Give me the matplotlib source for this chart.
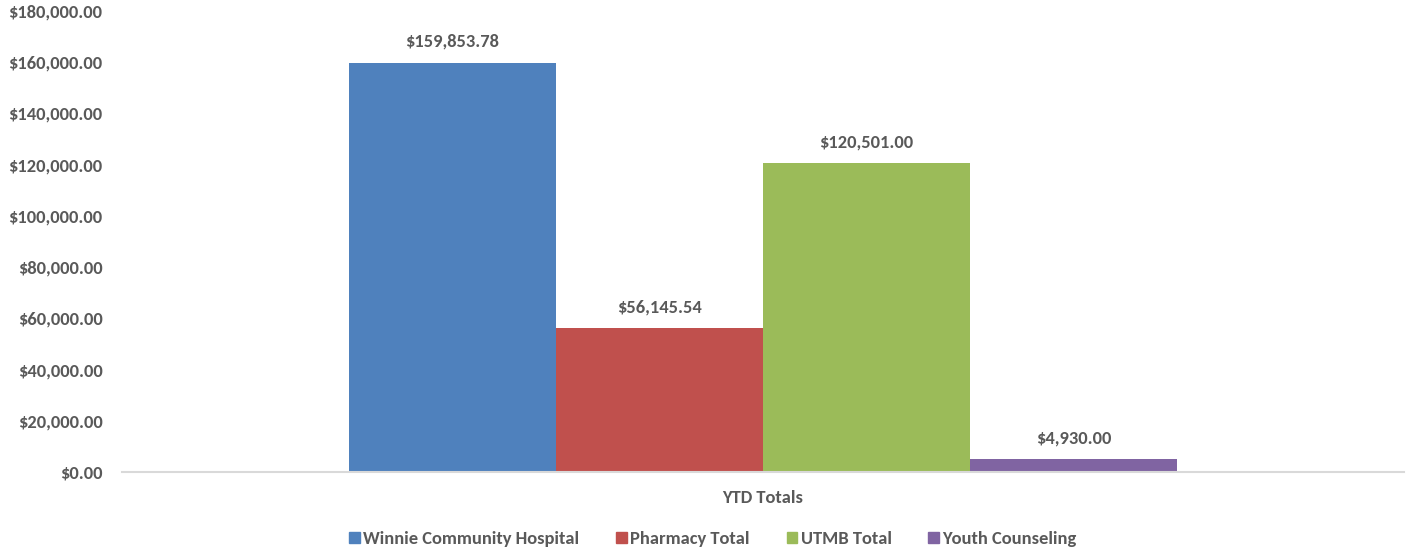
import matplotlib
matplotlib.use("Agg")
import matplotlib.pyplot as plt
from matplotlib.ticker import FuncFormatter, MultipleLocator
from matplotlib.patches import Patch

categories = ["YTD Totals"]
series_names = ["Winnie Community Hospital", "Pharmacy Total", "UTMB Total", "Youth Counseling"]
series_values = [159853.78, 56145.54, 120501.00, 4930.00]
colors = ["#4F81BD", "#C0504D", "#9BBB59", "#8064A2"]

W, H = 1411, 554
fig = plt.figure(figsize=(W/100, H/100), dpi=100)
ax = fig.add_axes([122/W, 1-472/H, (1404-122)/W, (472-11)/H])

font = "Carlito"
gray = "#595959"
fs = 13.3
bw = 207/1282
n = len(series_values)
for i, (name, v, c) in enumerate(zip(series_names, series_values, colors)):
    x = (i - (n-1)/2) * bw
    ax.bar(x, v, width=bw, color=c, label=name, zorder=2)
    ax.text(x, v + 5000, "${:,.2f}".format(v), ha="center", va="bottom",
            fontsize=fs, fontweight="bold", color=gray, family=font)

ax.set_xlim(-0.5, 0.5)
ax.set_ylim(0, 180000)
ax.yaxis.set_major_locator(MultipleLocator(20000))
ax.yaxis.set_major_formatter(FuncFormatter(lambda v, p: "${:,.2f}".format(v)))
ax.set_xticks([0])
ax.set_xticklabels(categories)
for s in ["top", "right", "left"]:
    ax.spines[s].set_visible(False)
ax.spines["bottom"].set_color("#D9D9D9")
ax.spines["bottom"].set_linewidth(1.5)
ax.tick_params(axis="both", length=0, labelsize=fs, labelcolor=gray)
ax.tick_params(axis="y", pad=14)
ax.tick_params(axis="x", pad=13)
for lab in ax.get_yticklabels() + ax.get_xticklabels():
    lab.set_fontweight("bold")
    lab.set_family(font)

handles = [Patch(color=c, label=nm) for nm, c in zip(series_names, colors)]
leg = fig.legend(handles=handles, loc="center", bbox_to_anchor=(713/W, 1-539/H), ncol=4,
                 frameon=False, handlelength=0.55, handleheight=0.55, handletextpad=0.2,
                 columnspacing=2.0, prop={"family": font, "weight": "bold", "size": fs})
for t in leg.get_texts():
    t.set_color(gray)

fig.savefig("out.png", dpi=100)
